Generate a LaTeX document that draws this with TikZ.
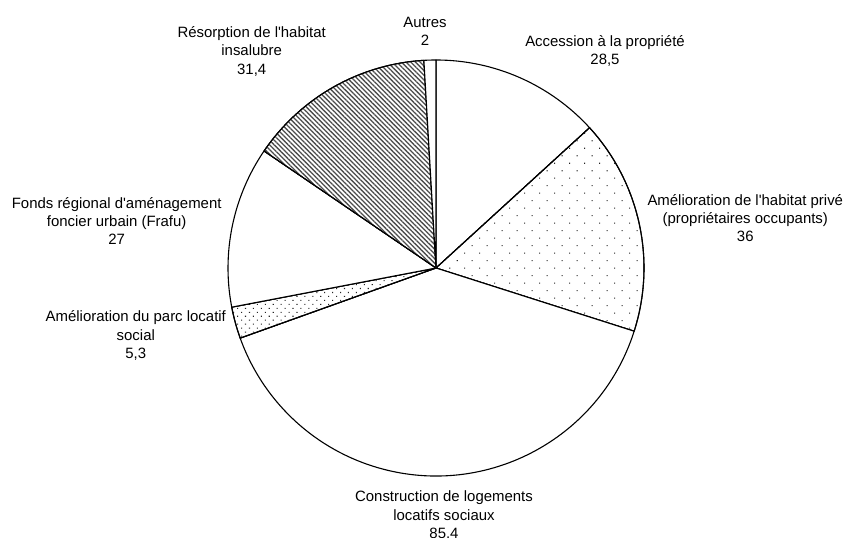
\documentclass[tikz,border=0pt]{standalone}
\usepackage{fontspec}
\setmainfont{Liberation Sans}
\usetikzlibrary{patterns.meta}
\newcommand\myslice[3]{\filldraw[slice,#3] (c) -- ++(#1:208) arc[start angle=#1,end angle=#2,radius=208] -- cycle;}
\newcommand\apos{\textquotesingle}
\begin{document}
\begin{tikzpicture}[x=1bp,y=1bp,
  slice/.style={draw=black, fill=white, line width=1.1bp, line join=round},
  sparsedots/.style={pattern={Dots[radius=0.75bp, distance=10.6bp, angle=45]}, pattern color=black!85},
  densedots/.style={pattern={Dots[radius=0.75bp, distance=5.6bp, angle=45]}, pattern color=black!85},
  hatch/.style={pattern={Lines[angle=-45, distance=3.3bp, line width=1.3bp]}, pattern color=black!70},
  lbl/.style={align=center, font=\fontsize{15}{18.3}\selectfont, inner sep=0pt, anchor=base},
]
\useasboundingbox (0,0) rectangle (845,538);
\coordinate (c) at (436,270);
% slices (clockwise from top)
\myslice{90}{42.412}{}
\myslice{42.412}{-17.699}{}
\myslice{42.412}{-17.699}{sparsedots}
\myslice{-17.699}{-160.296}{}
\myslice{-160.296}{-169.146}{}
\myslice{-160.296}{-169.146}{densedots}
\myslice{-169.146}{-214.229}{}
\myslice{-214.229}{-266.659}{}
\myslice{-214.229}{-266.659}{hatch}
\myslice{-266.659}{-270}{}
% labels (anchor = baseline of last line)
\node[lbl] (autres) at (425,492.4) {Autres\\2};
\node[lbl] (resorp) at (251.7,463.9) {Résorption de l\apos habitat\\insalubre\\31,4};
\node[lbl] (access) at (605,473) {Accession à la propriété\\28,5};
\node[lbl] (prive) at (745.3,296.4) {Amélioration de l\apos habitat privé\\(propriétaires occupants)\\36};
\node[lbl] (fonds) at (116.7,293.1) {Fonds régional d\apos aménagement\\foncier urbain (Frafu)\\27};
\node[lbl] (parc) at (135.8,179.7) {Amélioration du parc locatif\\social\\5,3};
\node[lbl] (constr) at (444,-0.3) {Construction de logements\\locatifs sociaux\\85,4};
\end{tikzpicture}
\end{document}
